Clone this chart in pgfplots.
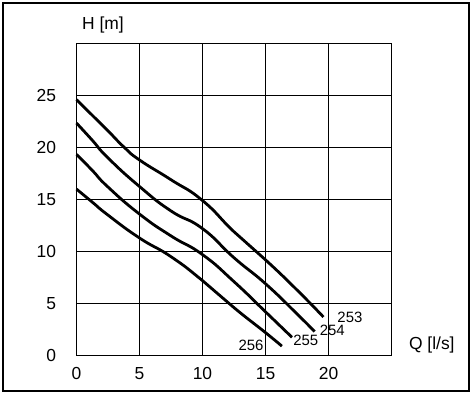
\documentclass[border=0pt]{standalone}
\usepackage{fontspec}
\setmainfont{Liberation Sans}
\usepackage{pgfplots}
\pgfplotsset{compat=1.18}
\begin{document}
\begin{tikzpicture}
\useasboundingbox (0,0) rectangle (472bp,394bp);
\draw[line width=2.6bp] (3bp,3bp) rectangle (469bp,391bp);
\begin{axis}[
  at={(76.5bp,38.5bp)}, anchor=south west,
  scale only axis, width=315bp, height=312bp,
  xmin=0, xmax=25, ymin=0, ymax=30,
  xtick={0,5,10,15,20,25}, ytick={0,5,10,15,20,25,30},
  xticklabels={0,5,10,15,20,}, yticklabels={0,5,10,15,20,25,},
  major tick length=0pt,
  grid=major,
  grid style={black, line width=1.1bp},
  axis line style={black, line width=1.1bp},
  /pgf/number format/assume math mode=true,
  tick label style={font=\fontsize{17.5}{20}\selectfont},
  xticklabel style={yshift=-8bp},
  yticklabel style={xshift=-17bp},
  xlabel={Q [l/s]}, ylabel={H [m]},
  every axis x label/.style={at={(axis description cs:1.128,0.018)}, anchor=base, font=\fontsize{17.5}{20}\selectfont},
  every axis y label/.style={at={(axis description cs:0.084,1.0455)}, anchor=base, font=\fontsize{17.5}{20}\selectfont},
  clip=false,
]
\addplot[black, line width=2.8bp, smooth, tension=0.9] coordinates {
 (0,24.6) (1.25,23.1) (2.5,21.6) (3.8,20.0) (5,18.8) (7.5,16.9) (10,14.9)
 (12.5,11.9) (15,9.2) (17.5,6.3) (19.6,3.7)};
\addplot[black, line width=2.8bp, smooth, tension=0.9] coordinates {
 (0,22.35) (1.25,20.7) (2.5,19.0) (5,16.25) (7.5,13.9) (10,12.2)
 (12.5,9.4) (15,6.9) (17.5,4.0) (18.9,2.3)};
\addplot[black, line width=2.8bp, smooth, tension=0.9] coordinates {
 (0,19.35) (1.25,17.8) (2.5,16.2) (5,13.6) (7.5,11.5) (10,9.7)
 (12.5,7.1) (15,4.2) (17.1,1.75)};
\addplot[black, line width=2.8bp, smooth, tension=0.9] coordinates {
 (0,16.0) (1.25,14.75) (2.5,13.5) (5,11.3) (7.5,9.5) (10,7.2)
 (12.5,4.6) (15,2.2) (16.3,0.9)};
\node[font=\fontsize{15}{17}\selectfont, inner sep=0pt] at (axis cs:21.7,3.7) {253};
\node[font=\fontsize{15}{17}\selectfont, inner sep=0pt] at (axis cs:20.3,2.45) {254};
\node[font=\fontsize{15}{17}\selectfont, inner sep=0pt] at (axis cs:18.2,1.5) {255};
\node[font=\fontsize{15}{17}\selectfont, inner sep=0pt] at (axis cs:13.85,1.0) {256};
\end{axis}
\end{tikzpicture}
\end{document}
